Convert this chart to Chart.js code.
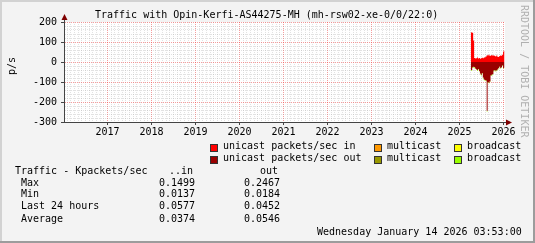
<!DOCTYPE html>
<html>
<head>
<meta charset="utf-8">
<script src="https://cdn.jsdelivr.net/npm/chart.js@4.4.1/dist/chart.umd.min.js"></script>
<style>
html, body { margin: 0; padding: 0; background: #f3f3f3; }
#wrap { position: relative; width: 535px; height: 243px; overflow: hidden; }
#wrap canvas { position: absolute; left: 0; top: 0; }
.t { position: absolute; font-family: 'DejaVu Sans Mono', monospace; font-size: 10px; line-height: 12px; white-space: pre; color: #000; }
.box { position: absolute; width: 6px; height: 6px; border: 1px solid #333; }
</style>
</head>
<body>
<div id="wrap">
  <canvas id="chart" width="535" height="243"></canvas>
  <div class="t" style="left:95px;top:9px">Traffic with Opin-Kerfi-AS44275-MH (mh-rsw02-xe-0/0/22:0)</div>
  <div class="t" style="left:3px;top:60px;width:18px;text-align:center;transform:rotate(-90deg)">p/s</div>
  <div class="t" style="left:518px;top:5px;writing-mode:vertical-rl;color:#b0b0b0">RRDTOOL / TOBI OETIKER</div>
  <div class="t" style="left:317px;top:226px">Wednesday January 14 2026 03:53:00</div>
  <div id="legend"></div>
  <div id="table"></div>
</div>
<script>
// samples (every 8 days), values in packets/sec
const sampleDates = ['2025-04-05', '2025-04-13', '2025-04-21', '2025-04-29', '2025-05-07', '2025-05-15',
    '2025-05-23', '2025-05-31', '2025-06-08', '2025-06-16', '2025-06-24', '2025-07-02',
    '2025-07-10', '2025-07-18', '2025-07-26', '2025-08-03', '2025-08-11', '2025-08-19',
    '2025-08-27', '2025-09-04', '2025-09-12', '2025-09-20', '2025-09-28', '2025-10-06',
    '2025-10-14', '2025-10-22', '2025-10-30', '2025-11-07', '2025-11-15', '2025-11-23',
    '2025-12-01', '2025-12-09', '2025-12-17', '2025-12-25', '2026-01-02', '2026-01-10'];

const unicastIn = [150, 148, 146, 108, 20, 17, 19, 22, 18, 20, 16, 19,
    21, 19, 22, 24, 28, 34, 32, 36, 30, 33, 35, 31,
    34, 30, 28, 32, 26, 25, 30, 33, 31, 36, 52, 56];
const multicastIn = [0, 0, 0, 0, 0, 0, 0, 0, 0, 0, 0, 0,
    0, 0, 0, 0, 0, 0, 0, 0, 0, 0, 0, 0,
    0, 0, 0, 0, 0, 0, 0, 0, 0, 0, 0, 0];
const broadcastIn = [0, 0, 0, 0, 0, 0, 0, 0, 0, 0, 0, 0,
    0, 0, 0, 0, 0, 0, 0, 0, 0, 0, 0, 0,
    0, 0, 0, 0, 0, 0, 0, 0, 0, 0, 0, 0];
// outbound, drawn below zero
const unicastOut = [40, 40, 26, 24, 25, 33, 36, 40, 35, 45, 58, 64,
    55, 78, 88, 90, 92, 244, 100, 104, 96, 66, 64, 60,
    42, 40, 44, 40, 36, 30, 22, 30, 26, 16, 30, 28];
const multicastOut = [1, 1, 0, 1, 1, 0, 1, 1, 0, 1, 1, 1,
    0, 1, 1, 0, 1, 1, 1, 0, 1, 1, 1, 0,
    1, 1, 2, 2, 1, 0, 1, 1, 0, 1, 1, 0];
const broadcastOut = [3, 3, 4, 2, 3, 2, 3, 4, 3, 2, 4, 3,
    3, 4, 2, 3, 3, 3, 4, 2, 3, 3, 2, 3,
    4, 3, 2, 3, 3, 2, 3, 2, 3, 3, 2, 3];

const yearLabels = [2017, 2018, 2019, 2020, 2021, 2022, 2023, 2024, 2025, 2026];
const yTickLabels = [200, 100, 0, -100, -200, -300];

const legendNames = ['unicast packets/sec in', 'multicast', 'broadcast',
    'unicast packets/sec out', 'multicast', 'broadcast'];
const seriesColors = ['#ff0000', '#ff9900', '#ffff00', '#990000', '#999900', '#99ff00'];

const statNames = ['Max', 'Min', 'Last 24 hours', 'Average'];
const statIn = ['0.1499', '0.0137', '0.0577', '0.0374'];
const statOut = ['0.2467', '0.0184', '0.0452', '0.0546'];

// graph spans Jan 5 2016 .. Jan 14 2026 03:53
const xMin = 2016.011;
const xMax = 2026.036;

function toYear(s) {
    const d = Date.parse(s + 'T00:00:00Z');
    const y = +s.slice(0, 4);
    const a = Date.UTC(y, 0, 1), b = Date.UTC(y + 1, 0, 1);
    return y + (d - a) / (b - a);
}
const xs = sampleDates.map(toYear);
const pts = (arr, sgn) => arr.map((v, i) => ({ x: xs[i], y: sgn * v }));

function area(label, arr, sgn, color, fill, stack) {
    return {
        label: label,
        data: pts(arr, sgn),
        backgroundColor: color,
        borderColor: 'transparent',
        borderWidth: 0,
        pointRadius: 0,
        stepped: 'middle',
        fill: fill,
        stack: stack
    };
}

// legend + table in html
const legend = document.getElementById('legend');
const boxX = [210, 374, 454], textX = [223, 387, 467];
legendNames.forEach((name, i) => {
    const row = Math.floor(i / 3), col = i % 3;
    const b = document.createElement('div');
    b.className = 'box';
    b.style.left = boxX[col] + 'px';
    b.style.top = (144 + row * 12) + 'px';
    b.style.background = seriesColors[i];
    legend.appendChild(b);
    const t = document.createElement('div');
    t.className = 't';
    t.style.left = textX[col] + 'px';
    t.style.top = (140 + row * 12) + 'px';
    t.textContent = name;
    legend.appendChild(t);
});

const table = document.getElementById('table');
function addText(txt, x, y) {
    const t = document.createElement('div');
    t.className = 't';
    t.style.left = x + 'px';
    t.style.top = y + 'px';
    t.textContent = txt;
    table.appendChild(t);
}
addText('Traffic - Kpackets/sec', 15, 165);
addText('..in', 169, 165);
addText('out', 260, 165);
const rowY = [177, 188, 200, 213];
statNames.forEach((n, i) => {
    addText(n, 21, rowY[i]);
    addText(statIn[i], 159, rowY[i]);
    addText(statOut[i], 244, rowY[i]);
});

const majorGrid = 'rgba(240, 60, 60, 0.5)';
const minorGrid = 'rgba(150, 150, 150, 0.28)';

const decor = {
    id: 'decor',
    beforeDraw(chart) {
        const c = chart.ctx, a = chart.chartArea;
        c.save();
        c.fillStyle = '#f3f3f3';
        c.fillRect(0, 0, 535, 243);
        // 3d frame
        c.fillStyle = '#d2d2d2';
        c.fillRect(0, 0, 535, 2);
        c.fillRect(0, 0, 2, 243);
        c.fillStyle = '#9c9c9c';
        c.fillRect(533, 0, 2, 243);
        c.fillRect(0, 241, 535, 2);
        c.fillStyle = '#ffffff';
        c.fillRect(a.left, a.top, a.right - a.left, a.bottom - a.top);
        c.restore();
    },
    afterDraw(chart) {
        const c = chart.ctx, a = chart.chartArea;
        c.save();
        c.strokeStyle = '#444';
        c.lineWidth = 1;
        c.beginPath();
        c.moveTo(a.left + 0.5, a.top);
        c.lineTo(a.left + 0.5, a.top - 3);
        c.moveTo(a.right, a.bottom + 0.5);
        c.lineTo(a.right + 2, a.bottom + 0.5);
        c.stroke();
        c.fillStyle = '#7f0000';
        c.beginPath();
        c.moveTo(a.left + 0.5, a.top - 8);
        c.lineTo(a.left - 2.5, a.top - 2);
        c.lineTo(a.left + 3.5, a.top - 2);
        c.closePath();
        c.fill();
        c.beginPath();
        c.moveTo(a.right + 7, a.bottom + 0.5);
        c.lineTo(a.right + 1, a.bottom - 2.5);
        c.lineTo(a.right + 1, a.bottom + 3.5);
        c.closePath();
        c.fill();
        c.restore();
    }
};

Chart.defaults.font.family = "'DejaVu Sans Mono', monospace";
Chart.defaults.font.size = 10;
Chart.defaults.color = '#000';

new Chart(document.getElementById('chart').getContext('2d'), {
    type: 'line',
    data: {
        datasets: [
            area(legendNames[0], unicastIn, 1, seriesColors[0], 'origin', 'in'),
            area(legendNames[1], multicastIn, 1, seriesColors[1], '-1', 'in'),
            area(legendNames[2], broadcastIn, 1, seriesColors[2], '-1', 'in'),
            area(legendNames[3], unicastOut, -1, seriesColors[3], 'origin', 'out'),
            area(legendNames[4], multicastOut, -1, seriesColors[4], '-1', 'out'),
            area(legendNames[5], broadcastOut, -1, seriesColors[5], '-1', 'out')
        ]
    },
    options: {
        responsive: false,
        animation: false,
        layout: { padding: { top: 22, right: 30, left: 0, bottom: 0 } },
        plugins: {
            legend: { display: false },
            title: { display: false },
            tooltip: { enabled: false }
        },
        scales: {
            x: {
                type: 'linear',
                min: xMin,
                max: xMax,
                afterBuildTicks(scale) {
                    const ticks = [];
                    for (let y = 2016; y <= 2026; y++) {
                        for (let m = 0; m < 12; m++) {
                            const v = y + m / 12;
                            if (v > xMin && v < xMax) ticks.push({ value: v });
                        }
                    }
                    scale.ticks = ticks;
                },
                afterFit(scale) { scale.height = 121; },
                ticks: {
                    autoSkip: false,
                    maxRotation: 0,
                    minRotation: 0,
                    padding: 1,
                    callback: v => yearLabels.includes(v) ? String(v) : ''
                },
                grid: {
                    color: ctx => Number.isInteger(ctx.tick && ctx.tick.value) ? majorGrid : minorGrid,
                    tickColor: ctx => Number.isInteger(ctx.tick && ctx.tick.value) ? '#444' : 'transparent',
                    tickLength: 3
                },
                border: { color: '#444', dash: [1, 1] }
            },
            y: {
                stacked: true,
                min: -300,
                max: 200,
                afterFit(scale) { scale.width = 64; },
                ticks: {
                    stepSize: 20,
                    autoSkip: false,
                    padding: 4,
                    callback: v => yTickLabels.includes(v) ? String(v) : ''
                },
                grid: {
                    color: ctx => (ctx.tick && ctx.tick.value % 100 === 0) ? majorGrid : minorGrid,
                    tickColor: ctx => (ctx.tick && ctx.tick.value % 100 === 0) ? '#444' : 'transparent',
                    tickLength: 3
                },
                border: { color: '#444', dash: [1, 1] }
            }
        }
    },
    plugins: [decor]
});
</script>
</body>
</html>
